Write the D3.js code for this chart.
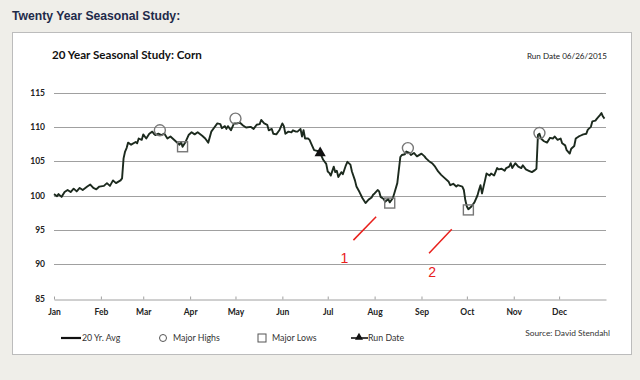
<!DOCTYPE html>
<html><head><meta charset="utf-8">
<script src="https://cdn.jsdelivr.net/npm/d3@7"></script>
<style>html,body{margin:0;padding:0;background:#efeee9;}svg{display:block;}</style>
</head><body>
<svg id="chart" width="640" height="380"></svg>
<script>
// ---- data (day index from Jan 1, value) ----
const dayOfYear = [0,2,3,5,7,9,11,13,15,17,19,22,24,26,28,30,33,35,37,39,41,44,45,46,47,48,49,51,54,55,56,58,59,61,63,65,66,67,69,71,73,75,77,79,81,83,84,85,87,89,91,93,95,98,100,102,104,106,108,110,111,113,114,115,117,119,121,123,125,127,130,132,134,136,137,139,141,142,144,145,147,149,151,152,153,155,157,158,160,161,163,164,165,166,168,169,170,172,174,176,178,180,181,182,183,185,186,187,188,190,191,193,194,196,197,199,200,202,204,206,208,210,211,212,214,215,216,218,219,221,222,224,225,227,228,229,230,232,233,235,236,238,240,243,245,246,248,250,252,254,256,258,261,262,264,266,267,270,271,272,273,274,276,278,280,281,282,283,285,286,288,289,291,293,294,296,298,299,301,302,303,305,307,309,310,312,314,316,318,319,320,321,322,324,326,328,330,331,333,335,336,338,339,341,342,344,345,347,348,350,352,353,355,356,358,359,361,362,363,364];
const avgValues = [100.2,99.9,100.2,99.8,100.5,100.8,100.5,101.0,100.6,101.1,100.8,101.3,101.6,101.1,100.9,101.3,101.4,101.8,101.4,102.2,101.8,102.2,102.5,105.4,106.4,106.9,107.7,107.4,107.8,107.6,108.3,108.1,108.9,108.3,109.0,109.3,109.0,108.8,109.0,108.8,109.0,108.3,108.6,108.2,107.8,107.4,107.8,107.1,107.8,108.8,109.2,108.9,109.2,108.7,108.3,107.7,109.3,109.9,110.5,110.4,109.8,110.1,109.7,110.1,109.5,110.5,110.5,110.6,110.2,109.9,110.0,109.7,110.3,110.4,111.0,110.5,110.3,109.5,109.7,109.0,108.9,109.5,110.5,110.1,109.0,109.3,109.2,109.5,109.3,109.3,109.7,108.6,109.5,108.3,108.3,108.1,107.6,106.6,106.5,106.2,105.2,104.6,103.5,103.3,102.9,104.2,103.4,103.6,102.7,103.4,103.1,104.4,104.9,104.5,103.5,102.2,101.3,100.5,99.6,98.9,99.4,99.7,100.1,100.3,100.8,100.6,99.8,99.5,99.1,99.5,99.0,99.6,100.3,101.8,103.7,105.6,105.9,106.0,106.4,106.2,105.9,106.2,105.7,106.1,105.7,105.4,105.0,104.7,104.2,103.5,103.0,102.6,102.0,101.5,101.7,101.3,101.5,101.3,100.8,99.3,98.4,98.0,98.4,99.0,100.0,100.8,101.5,100.3,102.2,103.2,102.9,103.2,102.9,104.0,103.8,103.9,103.6,104.0,104.2,104.7,104.0,104.7,104.2,104.0,104.4,103.8,103.6,103.4,103.7,103.9,108.8,109.0,108.3,107.9,107.7,108.4,108.3,108.6,108.1,108.3,107.6,107.3,106.6,106.1,106.8,107.2,108.3,108.6,108.7,108.9,109.0,109.6,110.0,110.8,110.9,111.2,111.7,112.0,111.5,111.2];
const highDays = [70,120,234,321];
const highValues = [109.5,111.2,106.9,109.1];
const lowDays = [85,222,274];
const lowValues = [107.1,98.9,97.9];
const runDay = [176];
const runValue = [106.2];
const yTicks = [85,90,95,100,105,110,115];
const legendLabels = ["20 Yr. Avg","Major Highs","Major Lows","Run Date"];
// red hand annotations: label, start (day,value), end (day,value), label position
const noteLabels = ["1","2"];
const noteStartDays = [198,248];
const noteStartValues = [93.5,91.6];
const noteEndDays = [213,263];
const noteEndValues = [96.9,95.1];
const noteLabelDays = [192,250];
const noteLabelValues = [90.2,88.1];

const year = 2015;
const toDate = d => new Date(year,0,1+d);

const svg = d3.select("#chart");
// panel
svg.append("rect").attr("x",12.5).attr("y",32.5).attr("width",619).attr("height",322)
  .attr("fill","#fff").attr("stroke","#bcbcbc");

svg.append("text").attr("x",12).attr("y",20)
  .attr("font-family","Liberation Sans, Arial, sans-serif").attr("font-size",12.2).attr("font-weight","bold")
  .attr("fill","#1e2a4a").text("Twenty Year Seasonal Study:");

svg.append("text").attr("x",52).attr("y",59)
  .attr("font-family","Lato, sans-serif").attr("font-size",11.6).attr("font-weight","bold")
  .attr("fill","#111").text("20 Year Seasonal Study: Corn");

svg.append("text").attr("x",607).attr("y",59).attr("text-anchor","end")
  .attr("font-family","Lato, sans-serif").attr("font-size",8.1)
  .attr("fill","#222").text("Run Date 06/26/2015");

const x = d3.scaleTime().domain([new Date(year,0,1), new Date(year+1,0,1)]).range([54,606]);
const y = d3.scaleLinear().domain([85,115]).range([298.5,92.5]);

// gridlines
svg.append("g").selectAll("line").data(yTicks.filter(v=>v>85)).join("line")
  .attr("x1",54).attr("x2",606).attr("y1",d=>Math.round(y(d))+0.5).attr("y2",d=>Math.round(y(d))+0.5)
  .attr("stroke","#a0a0a0").attr("stroke-width",1);

// y labels
svg.append("g").selectAll("text").data(yTicks).join("text")
  .attr("x",45).attr("y",d=>y(d)+3).attr("text-anchor","end")
  .attr("font-family","Lato, sans-serif").attr("font-size",8.5).attr("font-weight","bold").attr("fill","#222")
  .text(d=>d);

// x axis
const xAxis = d3.axisBottom(x).ticks(d3.timeMonth.every(1)).tickFormat(d3.timeFormat("%b"))
  .tickSizeInner(-3).tickSizeOuter(0).tickPadding(9);
const gx = svg.append("g").attr("transform",`translate(0,${Math.round(y(85))+0.5})`).call(xAxis);
gx.select(".domain").attr("stroke","#a0a0a0");
gx.selectAll(".tick line").attr("stroke","#a0a0a0");
gx.selectAll(".tick text").attr("font-family","Lato, sans-serif").attr("font-size",8.5).attr("font-weight","bold").attr("fill","#222");
gx.selectAll(".tick").filter(d=>d.getFullYear()>year).remove();

// main line
const pts = dayOfYear.map((d,i)=>({d:toDate(d),v:avgValues[i]}));
svg.append("path").datum(pts)
  .attr("d",d3.line().x(p=>x(p.d)).y(p=>y(p.v)))
  .attr("fill","none").attr("stroke","#1c2a1e").attr("stroke-width",1.9).attr("stroke-linejoin","round");

// highs
svg.append("g").selectAll("circle").data(highDays.map((d,i)=>({d:toDate(d),v:highValues[i]}))).join("circle")
  .attr("cx",p=>x(p.d)).attr("cy",p=>y(p.v)).attr("r",5.5)
  .attr("fill","none").attr("stroke","#777").attr("stroke-width",1.4);
// lows
svg.append("g").selectAll("rect").data(lowDays.map((d,i)=>({d:toDate(d),v:lowValues[i]}))).join("rect")
  .attr("x",p=>x(p.d)-5).attr("y",p=>y(p.v)-5).attr("width",10).attr("height",10)
  .attr("fill","none").attr("stroke","#777").attr("stroke-width",1.4);
// run date
const tri = d3.symbol().type(d3.symbolTriangle).size(55);
svg.append("g").selectAll("path").data(runDay.map((d,i)=>({d:toDate(d),v:runValue[i]}))).join("path")
  .attr("transform",p=>`translate(${x(p.d)},${y(p.v)})`).attr("d",tri).attr("fill","#111");

// annotations
const notes = noteLabels.map((l,i)=>({l,
  x1:x(toDate(noteStartDays[i])),y1:y(noteStartValues[i]),
  x2:x(toDate(noteEndDays[i])),y2:y(noteEndValues[i]),
  lx:x(toDate(noteLabelDays[i])),ly:y(noteLabelValues[i])}));
const ng = svg.append("g");
ng.selectAll("line").data(notes).join("line")
  .attr("x1",n=>n.x1).attr("y1",n=>n.y1).attr("x2",n=>n.x2).attr("y2",n=>n.y2)
  .attr("stroke","#e8201c").attr("stroke-width",1.5);
ng.selectAll("text").data(notes).join("text")
  .attr("x",n=>n.lx).attr("y",n=>n.ly).attr("text-anchor","middle")
  .attr("font-family","Liberation Sans, Arial, sans-serif").attr("font-size",14).attr("fill","#e8201c")
  .text(n=>n.l);

// legend
const ly = 338, lf = {family:"Lato, sans-serif", size:8.8};
const lg = svg.append("g").attr("font-family",lf.family).attr("font-size",lf.size).attr("fill","#333");
lg.append("line").attr("x1",61).attr("x2",81).attr("y1",ly).attr("y2",ly).attr("stroke","#111").attr("stroke-width",2.2);
lg.append("text").attr("x",82).attr("y",ly+3).text(legendLabels[0]);
lg.append("circle").attr("cx",163).attr("cy",ly).attr("r",3.5).attr("fill","none").attr("stroke","#555").attr("stroke-width",1);
lg.append("text").attr("x",173).attr("y",ly+3).text(legendLabels[1]);
lg.append("rect").attr("x",258).attr("y",ly-4).attr("width",8).attr("height",8).attr("fill","none").attr("stroke","#555").attr("stroke-width",1);
lg.append("text").attr("x",272).attr("y",ly+3).text(legendLabels[2]);
lg.append("line").attr("x1",351).attr("x2",368).attr("y1",ly).attr("y2",ly).attr("stroke","#111").attr("stroke-width",1.6);
lg.append("path").attr("transform",`translate(359,${ly-0.5})`).attr("d",d3.symbol().type(d3.symbolTriangle).size(28)).attr("fill","#111");
lg.append("text").attr("x",368).attr("y",ly+3).text(legendLabels[3]);
lg.append("text").attr("x",610).attr("y",336).attr("text-anchor","end").attr("font-size",8.4).text("Source: David Stendahl");
</script>
</body></html>
